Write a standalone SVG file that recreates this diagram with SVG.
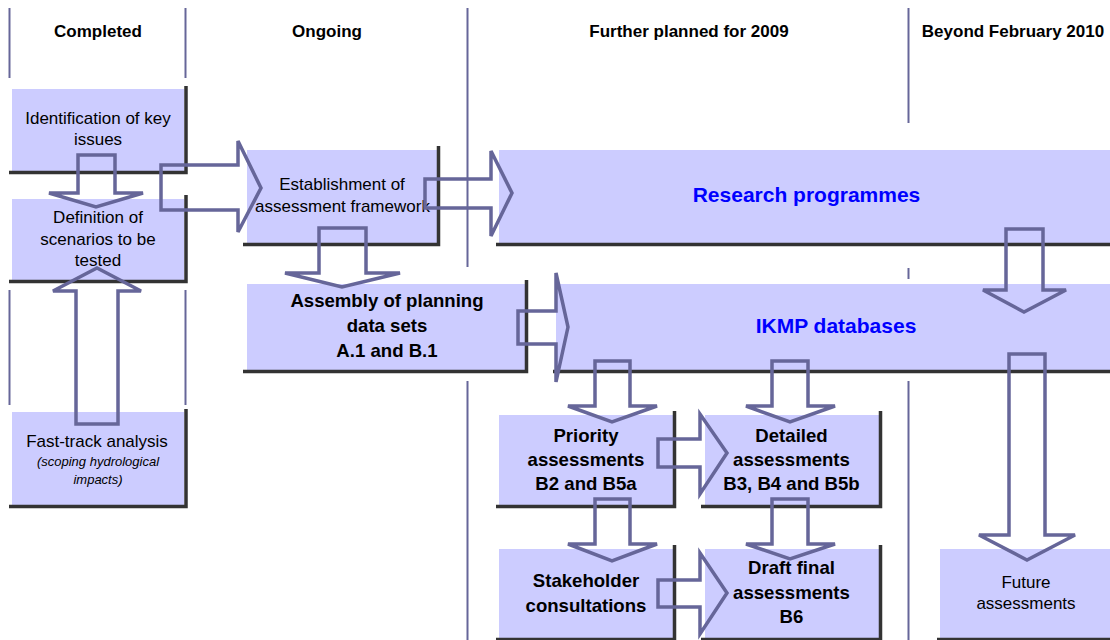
<svg xmlns="http://www.w3.org/2000/svg" width="1110" height="640" viewBox="0 0 1110 640">
<style>
  .box { fill: #ccccff; }
  .shadow { fill: none; stroke: #333333; stroke-width: 3.5; }
  .div { stroke: #666699; stroke-width: 2; }
  .arrow { fill: none; stroke: #666699; stroke-width: 3.5; stroke-linejoin: miter; }
  text { font-family: "Liberation Sans", Arial, Helvetica, sans-serif; text-anchor: middle; fill: #000; }
  .hdr { font-size: 17px; font-weight: bold; }
  .n { font-size: 17px; }
  .b { font-size: 18.6px; font-weight: bold; }
  .blue { font-size: 21px; font-weight: bold; fill: #0000ff; }
  .it { font-size: 13px; font-style: italic; }
</style>
<rect width="1110" height="640" fill="#ffffff"/>

<g id="dividers">
  <line class="div" x1="9.5" y1="8" x2="9.5" y2="78"/>
  <line class="div" x1="185.5" y1="8" x2="185.5" y2="78"/>
  <line class="div" x1="9.5" y1="290" x2="9.5" y2="405"/>
  <line class="div" x1="185.5" y1="290" x2="185.5" y2="405"/>
  <line class="div" x1="467.5" y1="8" x2="467.5" y2="267"/>
  <line class="div" x1="467.5" y1="381" x2="467.5" y2="640"/>
  <line class="div" x1="908.5" y1="8" x2="908.5" y2="123"/>
  <line class="div" x1="908.5" y1="268" x2="908.5" y2="279"/>
  <line class="div" x1="908.5" y1="381" x2="908.5" y2="640"/>
</g>

<g id="headers">
  <text class="hdr" x="98" y="37">Completed</text>
  <text class="hdr" x="327" y="37">Ongoing</text>
  <text class="hdr" x="689" y="37">Further planned for 2009</text>
  <text class="hdr" x="1013" y="37">Beyond February 2010</text>
</g>

<g id="identification">
  <rect class="box" x="12" y="89" width="172" height="82"/>
  <polyline class="shadow" points="186,86 186,172.5 9,172.5"/>
  <text class="n" x="98" y="124">Identification of key</text>
  <text class="n" x="98" y="145">issues</text>
</g>

<g id="definition">
  <rect class="box" x="12" y="199" width="172" height="81"/>
  <polyline class="shadow" points="186,195 186,281.5 9,281.5"/>
  <text class="n" x="98" y="223">Definition of</text>
  <text class="n" x="98" y="244.5">scenarios to be</text>
  <text class="n" x="98" y="266">tested</text>
</g>

<g id="fasttrack">
  <rect class="box" x="12" y="412" width="172" height="94"/>
  <polyline class="shadow" points="186,409 186,506.5 9,506.5"/>
  <text class="n" x="97" y="447">Fast-track analysis</text>
  <text class="it" x="98" y="466">(scoping hydrological</text>
  <text class="it" x="98" y="484">impacts)</text>
</g>

<g id="establishment">
  <rect class="box" x="247" y="150" width="190" height="93"/>
  <polyline class="shadow" points="438.5,146 438.5,244.5 243,244.5"/>
  <text class="n" x="342" y="190">Establishment of</text>
  <text class="n" x="342.5" y="211.5">assessment framework</text>
</g>

<g id="research">
  <rect class="box" x="499" y="150" width="611" height="93"/>
  <line class="shadow" x1="496" y1="244.5" x2="1110" y2="244.5"/>
  <text class="blue" x="806.5" y="202">Research programmes</text>
</g>

<g id="assembly">
  <rect class="box" x="247" y="284" width="278" height="86"/>
  <polyline class="shadow" points="526.5,280 526.5,371.5 243,371.5"/>
  <text class="b" x="387" y="307">Assembly of planning</text>
  <text class="b" x="387" y="332">data sets</text>
  <text class="b" x="387" y="357">A.1 and B.1</text>
</g>

<g id="ikmp">
  <rect class="box" x="556" y="284" width="554" height="86"/>
  <line class="shadow" x1="553" y1="371.5" x2="1110" y2="371.5"/>
  <text class="blue" x="836" y="333">IKMP databases</text>
</g>

<g id="priority">
  <rect class="box" x="499" y="415" width="174" height="90"/>
  <polyline class="shadow" points="674.5,411 674.5,506.5 496,506.5"/>
  <text class="b" x="586" y="442">Priority</text>
  <text class="b" x="586" y="466">assessments</text>
  <text class="b" x="586" y="490">B2 and B5a</text>
</g>

<g id="detailed">
  <rect class="box" x="705" y="415" width="174" height="90"/>
  <polyline class="shadow" points="880.5,411 880.5,506.5 701,506.5"/>
  <text class="b" x="791.5" y="442">Detailed</text>
  <text class="b" x="791.5" y="466">assessments</text>
  <text class="b" x="791.5" y="490">B3, B4 and B5b</text>
</g>

<g id="stakeholder">
  <rect class="box" x="499" y="549" width="174" height="89"/>
  <polyline class="shadow" points="674.5,545 674.5,639.5 496,639.5"/>
  <text class="b" x="586" y="587">Stakeholder</text>
  <text class="b" x="586" y="611.5">consultations</text>
</g>

<g id="draftfinal">
  <rect class="box" x="705" y="549" width="174" height="89"/>
  <polyline class="shadow" points="880.5,545 880.5,639.5 701,639.5"/>
  <text class="b" x="791.5" y="574">Draft final</text>
  <text class="b" x="791.5" y="599">assessments</text>
  <text class="b" x="791.5" y="623">B6</text>
</g>

<g id="future">
  <rect class="box" x="940" y="549" width="170" height="89"/>
  <line class="shadow" x1="937" y1="639.5" x2="1110" y2="639.5"/>
  <text class="n" x="1026" y="588">Future</text>
  <text class="n" x="1026" y="609">assessments</text>
</g>

<g id="connectors">
  <polygon class="arrow" points="78,155 115,155 115,193 143,193 96,207 49,193 78,193"/>
  <polygon class="arrow" points="76,424 118,424 118,291 141,291 97,268 53,291 76,291"/>
  <polygon class="arrow" points="161,165 238,165 238,141 261,188 238,232 238,210 161,210"/>
  <polygon class="arrow" points="319,228 366,228 366,273 400,273 342,287 285,273 319,273"/>
  <polygon class="arrow" points="425,179 491,179 491,151 512,193 491,236 491,208 425,208"/>
  <polygon class="arrow" points="518,311 556,311 556,273 568,327 556,382 556,344 518,344"/>
  <polygon class="arrow" points="1006,229 1043,229 1043,290 1066,290 1024,312 983,290 1006,290"/>
  <polygon class="arrow" points="1009,354 1045,354 1045,535 1075,535 1027,560 979,535 1009,535"/>
  <polygon class="arrow" points="595,361 630,361 630,406 657,406 612,422 568,406 595,406"/>
  <polygon class="arrow" points="772,361 808,361 808,406 835,406 790,422 746,406 772,406"/>
  <polygon class="arrow" points="595,499 630,499 630,544 657,544 612,561 568,544 595,544"/>
  <polygon class="arrow" points="772,499 808,499 808,544 835,544 790,559 746,544 772,544"/>
  <polygon class="arrow" points="658,439 700,439 700,414 727,453 700,494 700,467 658,467"/>
  <polygon class="arrow" points="658,580 700,580 700,553 727,593 700,634 700,607 658,607"/>
</g>
</svg>
